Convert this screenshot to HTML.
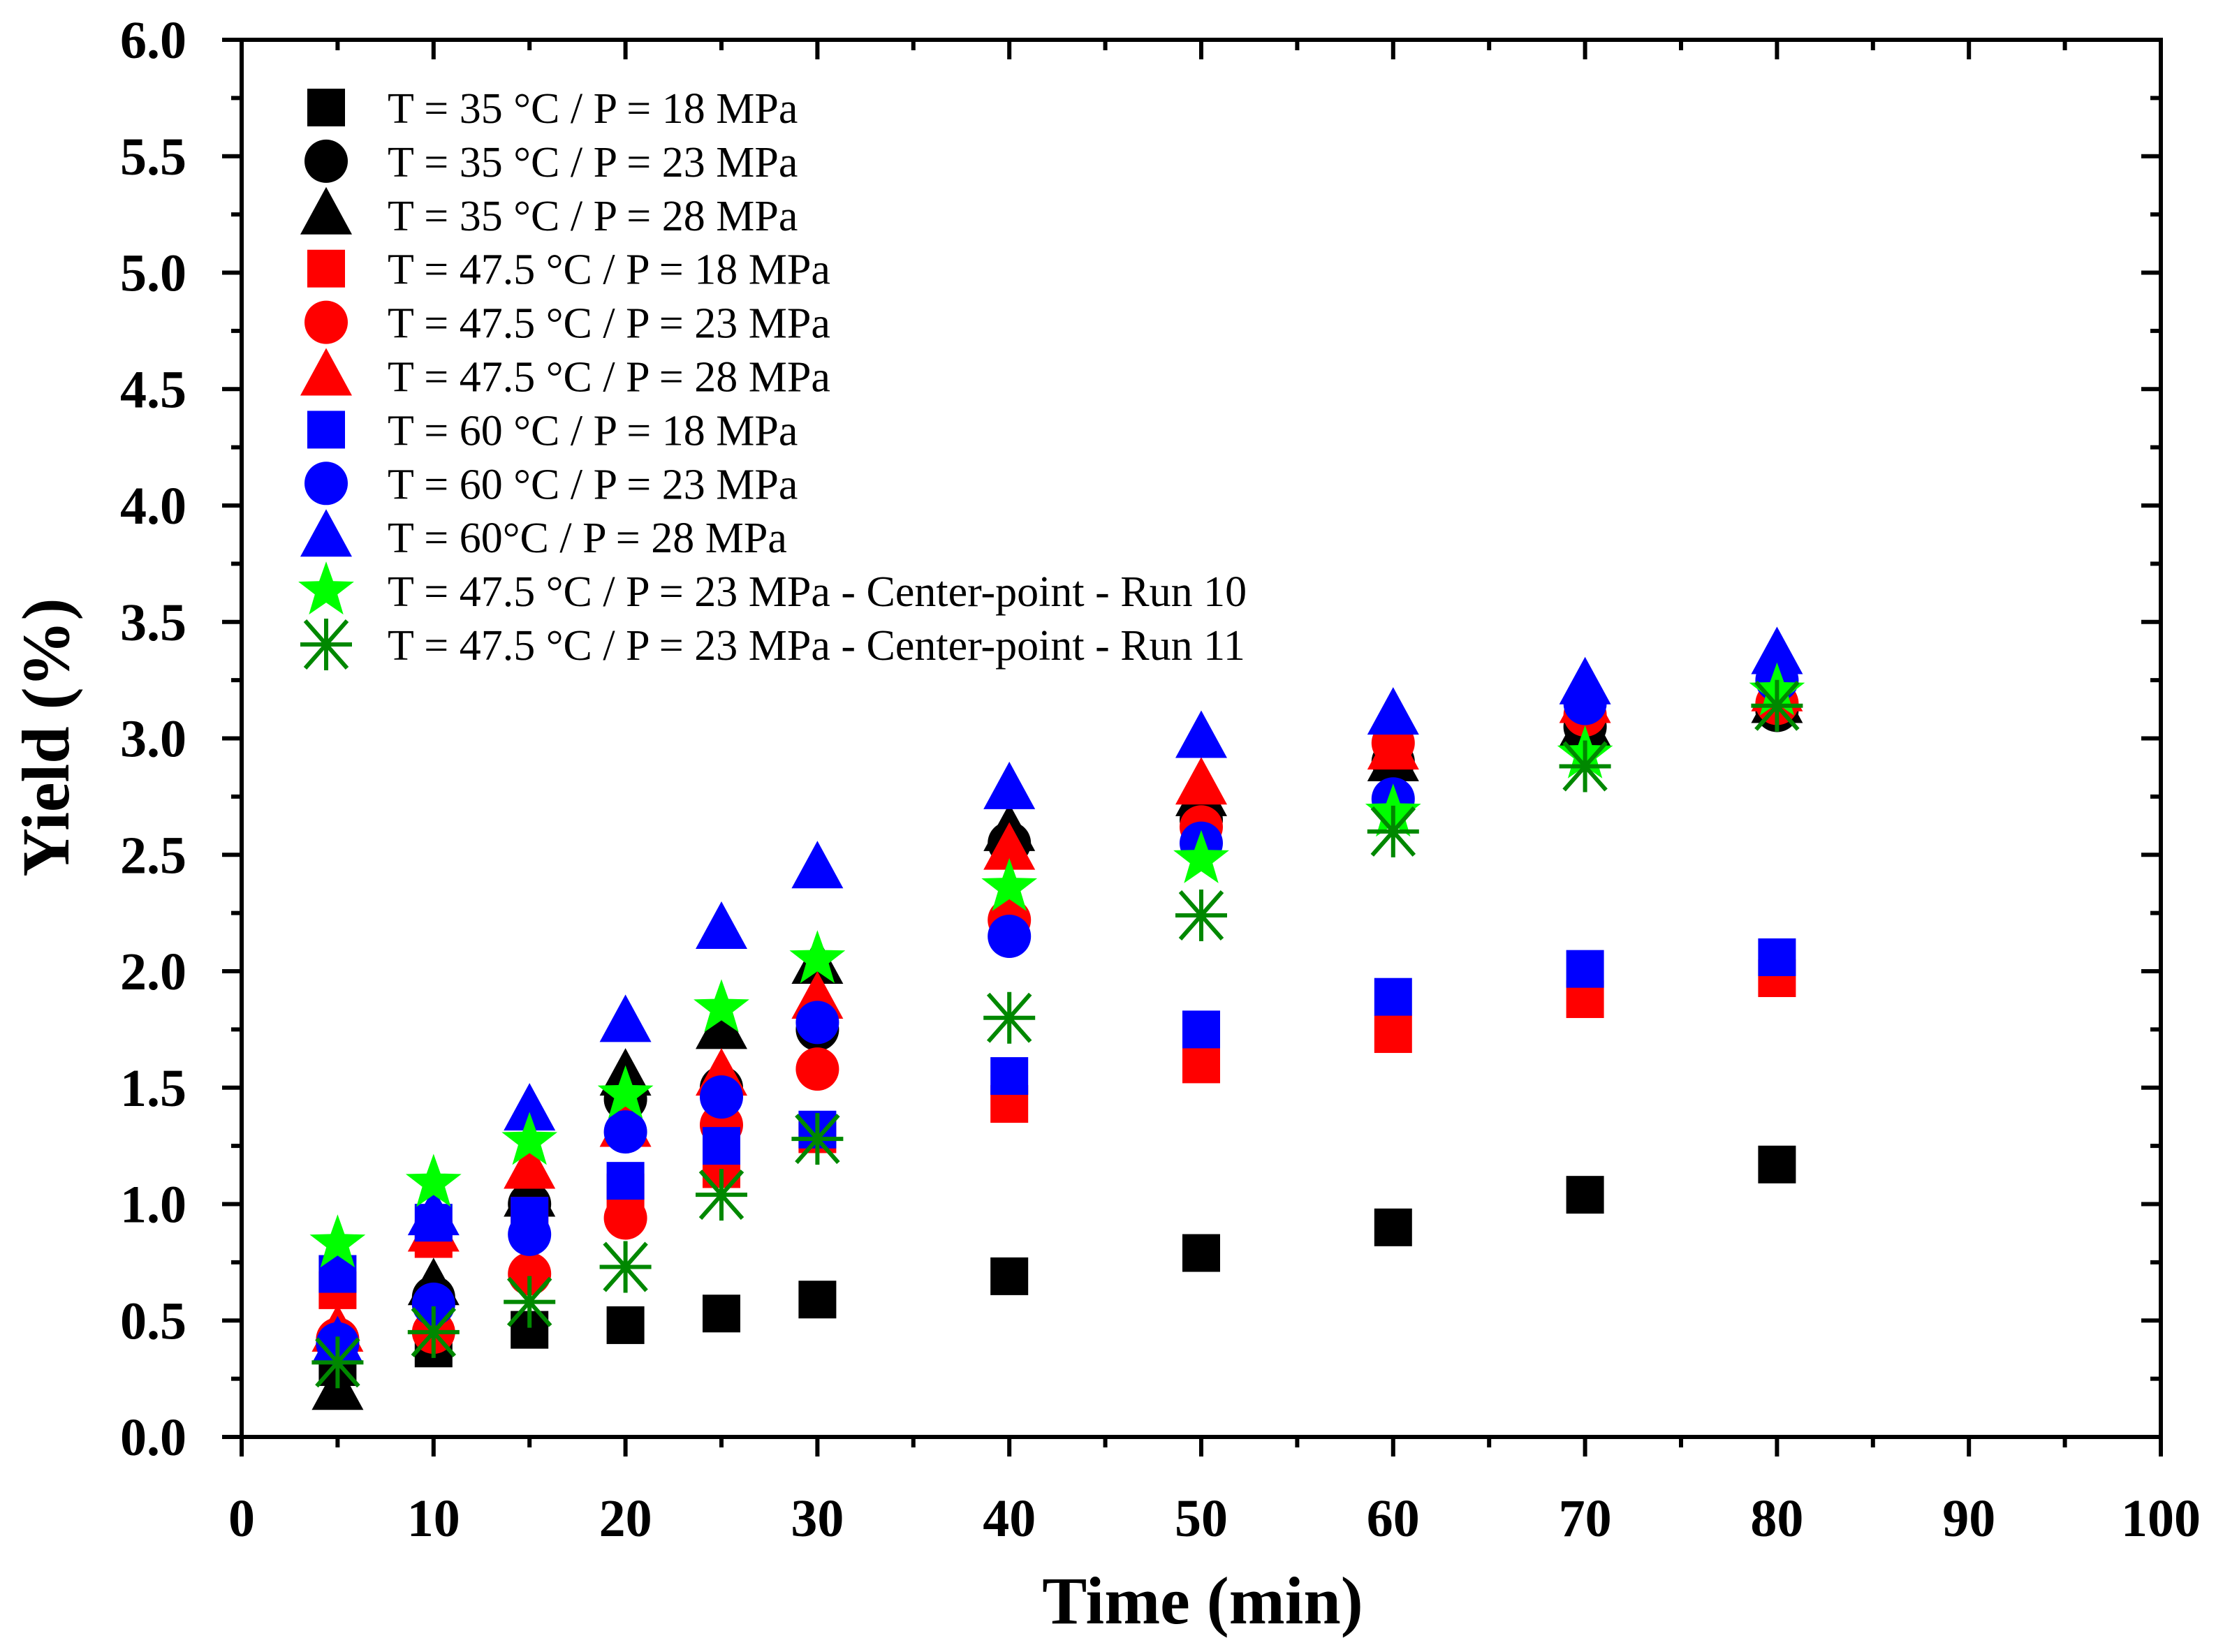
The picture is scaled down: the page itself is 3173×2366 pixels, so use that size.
<!DOCTYPE html>
<html><head><meta charset="utf-8"><style>
html,body{margin:0;padding:0;background:#fff;}
svg{display:block;}
text{font-family:"Liberation Serif",serif;}
</style></head><body>
<svg id="chart" width="3173" height="2366" viewBox="0 0 3173 2366" xmlns="http://www.w3.org/2000/svg">
<rect x="0" y="0" width="3173" height="2366" fill="#fff"/>
<g id="marks"></g>
<g id="axes"></g>
<g id="legend"></g>
<text x="1722" y="2325" text-anchor="middle" font-size="96" font-weight="bold">Time (min)</text>
<text transform="translate(98,1056) rotate(-90)" text-anchor="middle" font-size="96" font-weight="bold">Yield (%)</text>
</svg>
<script>
const times = [5,10,15,20,25,30,40,50,60,70,80];
const s35_18 = [0.30,0.38,0.46,0.48,0.53,0.59,0.69,0.79,0.90,1.04,1.17];
const s35_23 = [0.40,0.60,1.00,1.45,1.50,1.75,2.55,2.65,2.90,3.05,3.12];
const s35_28 = [0.20,0.65,1.03,1.55,1.75,2.03,2.60,2.75,2.90,3.05,3.15];
const s47_18 = [0.63,0.85,0.95,1.05,1.15,1.30,1.43,1.60,1.73,1.88,1.97];
const s47_23 = [0.42,0.45,0.70,0.94,1.34,1.58,2.22,2.62,2.98,3.10,3.15];
const s47_28 = [0.45,0.88,1.15,1.33,1.55,1.88,2.52,2.80,2.95,3.15,3.20];
const s60_18 = [0.70,0.92,0.95,1.10,1.25,1.32,1.55,1.75,1.89,2.01,2.06];
const s60_23 = [0.40,0.57,0.87,1.31,1.46,1.78,2.15,2.55,2.74,3.15,3.25];
const s60_28 = [0.40,0.95,1.40,1.78,2.18,2.44,2.78,3.00,3.10,3.23,3.36];
const run10 = [0.83,1.09,1.27,1.47,1.84,2.05,2.36,2.48,2.68,2.93,3.20];
const run11 = [0.32,0.45,0.58,0.73,1.04,1.28,1.80,2.24,2.60,2.88,3.14];
const seriesLabels = ["T = 35 °C / P = 18 MPa","T = 35 °C / P = 23 MPa","T = 35 °C / P = 28 MPa","T = 47.5 °C / P = 18 MPa","T = 47.5 °C / P = 23 MPa","T = 47.5 °C / P = 28 MPa","T = 60 °C / P = 18 MPa","T = 60 °C / P = 23 MPa","T = 60°C / P = 28 MPa","T = 47.5 °C / P = 23 MPa - Center-point - Run 10","T = 47.5 °C / P = 23 MPa - Center-point - Run 11"];
const xTicks = [0,10,20,30,40,50,60,70,80,90,100];
const yTicks = [0,0.5,1,1.5,2,2.5,3,3.5,4,4.5,5,5.5,6];

const NS="http://www.w3.org/2000/svg";
const L=346,R=3094,T=57,B=2058;
const xs=v=>L+(v/100)*(R-L);
const ys=v=>B-(v/6)*(B-T);
function mk(tag,attrs,parent){const e=document.createElementNS(NS,tag);for(const k in attrs)e.setAttribute(k,attrs[k]);parent.appendChild(e);return e;}

const series=[
 {d:s35_18,c:"#000",m:"sq"},{d:s35_23,c:"#000",m:"ci"},{d:s35_28,c:"#000",m:"tr"},
 {d:s47_18,c:"#f00",m:"sq"},{d:s47_23,c:"#f00",m:"ci"},{d:s47_28,c:"#f00",m:"tr"},
 {d:s60_18,c:"#00f",m:"sq"},{d:s60_23,c:"#00f",m:"ci"},{d:s60_28,c:"#00f",m:"tr"},
 {d:run10,c:"#00ff00",m:"st"},{d:run11,c:"#008800",m:"as"}];

function marker(g,type,cx,cy,color){
 let e;
 if(type==="sq"){e=mk("rect",{x:cx-27,y:cy-27,width:54,height:54,fill:color},g);}
 else if(type==="ci"){e=mk("circle",{cx:cx,cy:cy,r:31,fill:color},g);}
 else if(type==="tr"){e=mk("polygon",{points:`${cx},${cy-40} ${cx+37},${cy+28} ${cx-37},${cy+28}`,fill:color},g);}
 else if(type==="st"){let p=[];for(let i=0;i<10;i++){const r=i%2?17:42;const a=-Math.PI/2+i*Math.PI/5;p.push((cx+r*Math.cos(a)).toFixed(1)+","+(cy+r*Math.sin(a)).toFixed(1));}e=mk("polygon",{points:p.join(" "),fill:color},g);}
 else {e=mk("path",{d:`M${cx-37},${cy}H${cx+37}M${cx},${cy-37}V${cy+37}M${cx-30},${cy-34}L${cx+30},${cy+34}M${cx+30},${cy-34}L${cx-30},${cy+34}`,stroke:color,"stroke-width":6,fill:"none"},g);}
 return e;
}

const marks=document.getElementById("marks");
series.forEach((s,si)=>{
 const g=mk("g",{},marks);
 
 
 s.d.forEach((v,i)=>{
  const e=marker(g,s.m,xs(times[i]),ys(v),s.c);
  
  
 });
});

const axes=document.getElementById("axes");
mk("rect",{x:L,y:T,width:R-L,height:B-T,fill:"none",stroke:"#000","stroke-width":6},axes);
for(let v=0;v<=100;v+=5){
 const x=xs(v),maj=v%10===0,len=maj?28:15;
 mk("line",{x1:x,y1:B,x2:x,y2:B+len,stroke:"#000","stroke-width":6},axes);
 mk("line",{x1:x,y1:T,x2:x,y2:T+len,stroke:"#000","stroke-width":6},axes);
}
for(let k=0;k<=24;k++){
 const v=k*0.25,y=ys(v),maj=k%2===0,len=maj?28:15;
 mk("line",{x1:L,y1:y,x2:L-len,y2:y,stroke:"#000","stroke-width":6},axes);
 mk("line",{x1:R,y1:y,x2:R-len,y2:y,stroke:"#000","stroke-width":6},axes);
}
xTicks.forEach(v=>{
 const t=mk("text",{x:xs(v),y:2200,"text-anchor":"middle","font-size":76,"font-weight":"bold"},axes);
 t.textContent=String(v);
 
 
});
yTicks.forEach(v=>{
 const t=mk("text",{x:267,y:ys(v)+26,"text-anchor":"end","font-size":76,"font-weight":"bold"},axes);
 t.textContent=v.toFixed(1);
 
 
});

const leg=document.getElementById("legend");
series.forEach((s,i)=>{
 const y=154+76.9*i;
 const g=mk("g",{},leg);
 
 
 marker(g,s.m,467,y,s.c);
 const t=mk("text",{x:555,y:y+22,"font-size":62},g);
 t.textContent=seriesLabels[i];
});
</script>
</body></html>
